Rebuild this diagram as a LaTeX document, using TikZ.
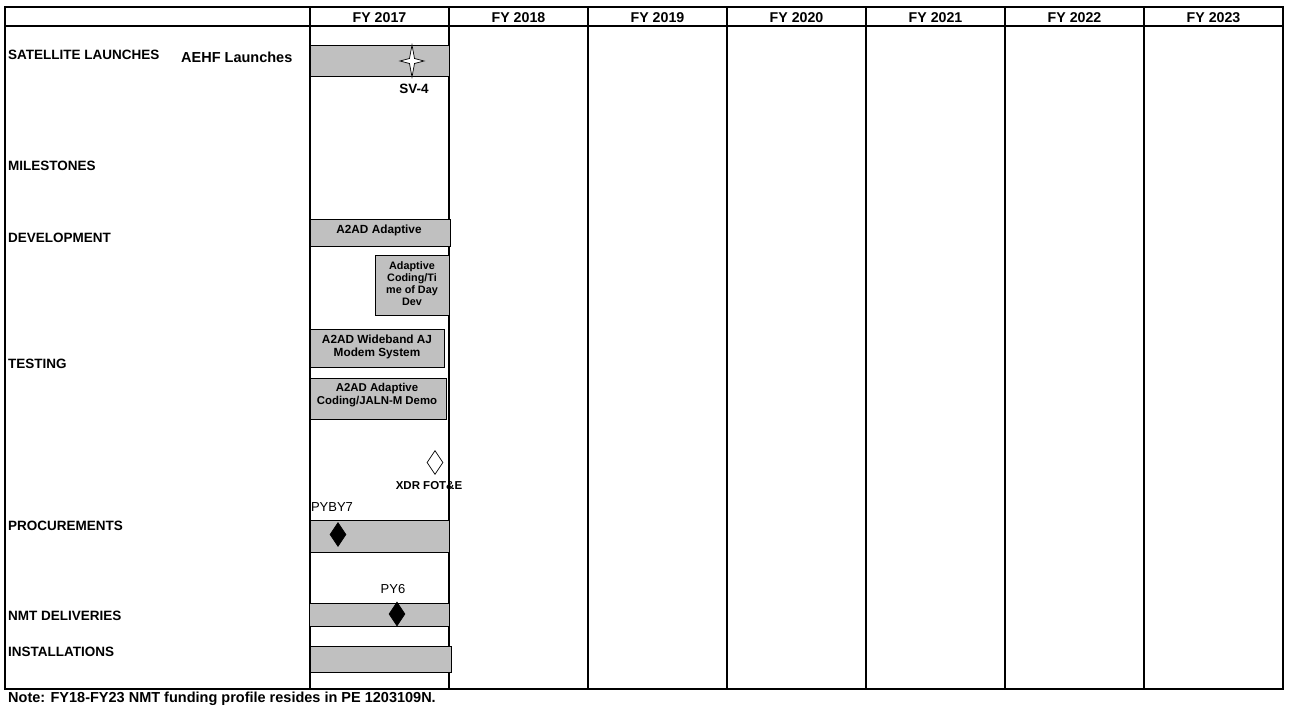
\documentclass[tikz,border=0pt]{standalone}
\usepackage{fontspec}
\setmainfont{Liberation Sans}
\usetikzlibrary{shapes.geometric}
\definecolor{barg}{HTML}{C0C0C0}
\begin{document}
\begin{tikzpicture}[x=1pt,y=-1pt,
  gridline/.style={line width=1.2pt},
  bar/.style={draw, fill=barg, line width=1pt, inner sep=0pt, anchor=north west},
  rowlab/.style={font=\fontsize{13.5}{15}\selectfont\bfseries, anchor=west, inner sep=0pt},
  hdr/.style={font=\fontsize{14.2}{16}\selectfont\bfseries, inner sep=0pt},
  boxtxt/.style={font=\fontsize{11.4}{13}\selectfont\bfseries, align=center, inner sep=0pt},
  smalltxt/.style={font=\fontsize{10.8}{12}\selectfont\bfseries, align=center, inner sep=0pt},
  plaintxt/.style={font=\fontsize{13}{15}\selectfont, inner sep=0pt},
  openmile/.style={diamond, draw, fill=white, line width=0.7pt, inner sep=0pt, minimum width=16pt, minimum height=24pt},
  fullmile/.style={diamond, draw, fill=black, line width=0.7pt, inner sep=0pt, minimum width=16pt, minimum height=24pt}
]
\useasboundingbox (0,0) rectangle (1290,714);
% table grid
\draw[gridline] (5,7) rectangle (1283,689);
\draw[gridline] (5,26) -- (1283,26);
\foreach \cx in {310,449,588,727,866,1005,1144}
  \draw[gridline] (\cx,7) -- (\cx,689);
% headers
\foreach \yr [count=\i from 0] in {2017,2018,2019,2020,2021,2022,2023}
  \node[hdr] (fy\yr) at ({310+139*(\i+0.5)},17.5) {FY \yr};
% row labels
\node[rowlab] (lsat) at (8,55) {SATELLITE LAUNCHES};
\node[rowlab, font=\fontsize{14.5}{16}\selectfont\bfseries] (laehf) at (181,57) {AEHF Launches};
\node[rowlab] (lmil) at (8,166) {MILESTONES};
\node[rowlab] (ldev) at (8,238) {DEVELOPMENT};
\node[rowlab] (ltest) at (8,364) {TESTING};
\node[rowlab] (lproc) at (8,526) {PROCUREMENTS};
\node[rowlab] (lnmt) at (8,616) {NMT DELIVERIES};
\node[rowlab] (linst) at (8,652) {INSTALLATIONS};
% bars
\node[bar, minimum width=139pt, minimum height=31pt] (aehf) at (310,45) {};
\node[bar, minimum width=140pt, minimum height=27pt] (dev1) at (310,219) {};
\node[bar, minimum width=74pt, minimum height=60pt] (dev2) at (375,255) {};
\node[bar, minimum width=134pt, minimum height=38pt] (test1) at (310,329) {};
\node[bar, minimum width=136pt, minimum height=41pt] (test2) at (310,378) {};
\node[bar, minimum width=139pt, minimum height=32pt] (proc) at (310,520) {};
\node[bar, minimum width=140pt, minimum height=23pt] (nmt) at (309,603) {};
\node[bar, minimum width=141pt, minimum height=26pt] (inst) at (310,646) {};
% bar texts
\node[boxtxt, font=\fontsize{11.8}{13}\selectfont\bfseries] (tdev1) at (379,230.5) {A2AD Adaptive};
\node[smalltxt] (tdev2) at (412,283.5) {Adaptive\\Coding/Ti\\me of Day\\Dev};
\node[boxtxt, font=\fontsize{11.8}{13}\selectfont\bfseries] (ttest1) at (377,347) {A2AD Wideband AJ\\Modem System};
\node[boxtxt] (ttest2) at (377,395) {A2AD Adaptive\\Coding/JALN-M Demo};
% star milestone
\coordinate (star) at (412,61);
\begin{scope}[shift={(star)}]
\draw[fill=white, line width=0.7pt] (0,-16) -- (2.5,-2.5) -- (12,0) -- (2.5,2.5) -- (0,16) -- (-2.5,2.5) -- (-12,0) -- (-2.5,-2.5) -- cycle;
\end{scope}
\node[font=\fontsize{13.5}{15}\selectfont\bfseries, inner sep=0pt] (sv4) at (414,88.5) {SV-4};
% diamonds
\node[openmile] (xdr) at (435,462.5) {};
\node[font=\fontsize{11.5}{13}\selectfont\bfseries, inner sep=0pt] (txdr) at (429,486) {XDR FOT\&E};
\node[plaintxt] (tpy7) at (332,507) {PYBY7};
\node[fullmile] (py7) at (338,534.5) {};
\node[plaintxt] (tpy6) at (393,589) {PY6};
\node[fullmile] (py6) at (397,614) {};
% note
\node[font=\fontsize{14.5}{16}\selectfont\bfseries, anchor=west, inner sep=0pt] (note) at (8,699) {Note: FY18-FY23 NMT funding profile resides in PE 1203109N.};
\end{tikzpicture}
\end{document}
